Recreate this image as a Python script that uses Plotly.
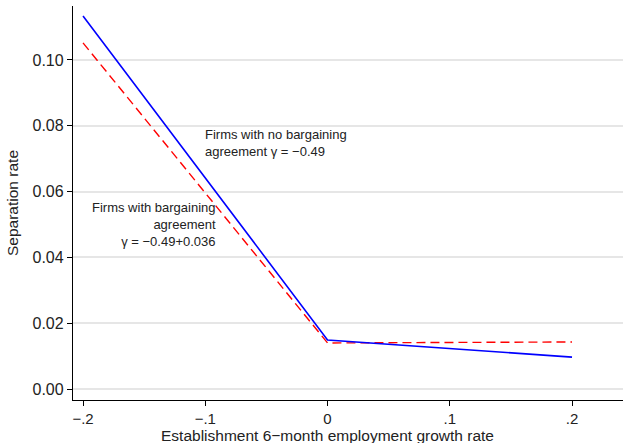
import plotly.graph_objects as go

growth = [-0.2, 0.0, 0.2]
no_bargaining = [0.1134, 0.0149, 0.0097]
bargaining = [0.1052, 0.0140, 0.0143]

x_tickvals = [-0.2, -0.1, 0.0, 0.1, 0.2]
x_ticktext = ["\u2212.2", "\u2212.1", "0", ".1", ".2"]
y_tickvals = [0.0, 0.02, 0.04, 0.06, 0.08, 0.10]
y_ticktext = ["0.00", "0.02", "0.04", "0.06", "0.08", "0.10"]

label_no = ["Firms with no bargaining", "agreement \u03b3 = \u22120.49"]
label_yes = ["Firms with bargaining", "agreement", "\u03b3 = \u22120.49+0.036"]

FONT = "Liberation Sans, Arial, Helvetica, sans-serif"

fig = go.Figure()
fig.add_trace(go.Scatter(x=growth, y=bargaining, mode="lines",
                         line=dict(color="red", width=1.4, dash="9px,5px")))
fig.add_trace(go.Scatter(x=growth, y=no_bargaining, mode="lines",
                         line=dict(color="blue", width=1.6)))

fig.add_annotation(x=-0.1010, y=0.07482, xref="x", yref="y",
                   text="<br>".join(label_no),
                   showarrow=False, xanchor="left", yanchor="middle", align="left",
                   borderpad=0, font=dict(size=13, color="#222", family=FONT))
fig.add_annotation(x=-0.0906, y=0.04991, xref="x", yref="y",
                   text="<br>".join(label_yes),
                   showarrow=False, xanchor="right", yanchor="middle", align="right",
                   borderpad=0, font=dict(size=13, color="#222", family=FONT))

fig.add_annotation(x=0.0, y=-0.0890, xref="x", yref="paper",
                   text="Establishment 6\u2212month employment growth rate",
                   showarrow=False, xanchor="center", yanchor="middle",
                   font=dict(size=15.5, color="#222", family=FONT))

fig.update_layout(
    width=623, height=443,
    margin=dict(l=73, r=0, t=6, b=43),
    plot_bgcolor="white", paper_bgcolor="white",
    showlegend=False,
    font=dict(family=FONT, color="#222"),
    xaxis=dict(range=[-0.2082, 0.2417], tickvals=x_tickvals, ticktext=x_ticktext,
               showgrid=False, zeroline=False, showline=True, linecolor="black",
               linewidth=1.3, ticks="outside", ticklen=5, tickcolor="black",
               tickwidth=1.2, tickfont=dict(size=15)),
    yaxis=dict(range=[-0.00334, 0.11641], tickvals=y_tickvals, ticktext=y_ticktext,
               showgrid=True, gridcolor="#e6e6e6", gridwidth=1.5, zeroline=False,
               showline=True, linecolor="black", linewidth=1.3,
               ticks="outside", ticklen=5, tickcolor="black", tickwidth=1.2,
               tickfont=dict(size=16),
               title=dict(text="Separation rate", font=dict(size=15.5), standoff=10)),
)

fig.write_html("out.html", config={"displayModeBar": False},
               post_script="document.body.style.margin='0px';")
